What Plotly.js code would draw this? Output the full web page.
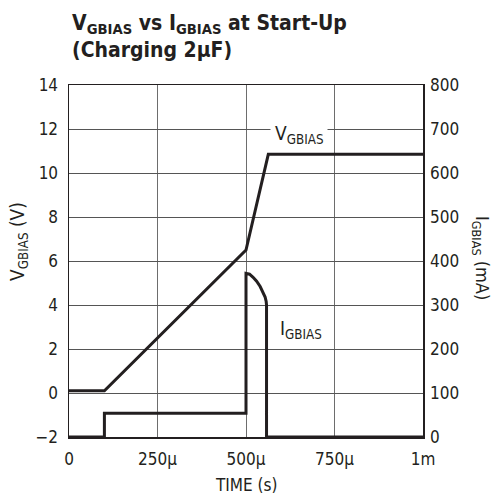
<!DOCTYPE html>
<html>
<head>
<meta charset="utf-8">
<script src="https://cdn.plot.ly/plotly-3.0.1.min.js"></script>
<style>html,body{margin:0;padding:0;background:#fff;}#chart{width:497px;height:498px;}</style>
</head>
<body>
<div id="chart"></div>
<script>
// Time (s) and V_GBIAS (V), left axis
var timeV = [0, 100e-6, 500e-6, 563e-6, 1e-3];
var vgbias = [0.1, 0.1, 6.5, 10.85, 10.85];

// Time (s) and I_GBIAS (mA), right axis
var timeI = [0, 100e-6, 100e-6, 500e-6, 500e-6, 510e-6, 520e-6, 530e-6, 540e-6, 548e-6, 554e-6, 557e-6, 558e-6, 558e-6, 1e-3];
var igbias = [0, 0, 54, 54, 372, 370, 363, 354, 342, 330, 318, 308, 300, 0, 0];

// Tick labels
var xTickVals = [0, 250e-6, 500e-6, 750e-6, 1e-3];
var xTickText = ['0', '250µ', '500µ', '750µ', '1m'];
var yLeftTicks = [-2, 0, 2, 4, 6, 8, 10, 12, 14];
var yLeftText = ['\u22122', '0', '2', '4', '6', '8', '10', '12', '14'];

var FONT = '"Liberation Sans Narrow", "DejaVu Sans Condensed", "Arial Narrow", sans-serif';
var INK = '#231f20';

var traces = [
  {x: timeV, y: vgbias, type: 'scatter', mode: 'lines', yaxis: 'y',
   line: {color: INK, width: 3}, hoverinfo: 'skip'},
  {x: timeI, y: igbias, type: 'scatter', mode: 'lines', yaxis: 'y2',
   line: {color: INK, width: 3}, hoverinfo: 'skip'}
];

var layout = {
  width: 497, height: 498,
  margin: {l: 69, r: 74, t: 85, b: 61, pad: 0},
  paper_bgcolor: '#fff', plot_bgcolor: '#fff',
  showlegend: false,
  font: {family: FONT, size: 17, color: INK},
  xaxis: {
    range: [0, 1e-3], tickvals: xTickVals, ticktext: xTickText,
    showgrid: true, gridcolor: '#6d6d6d', gridwidth: 1,
    zeroline: false, showline: true, mirror: true, linecolor: INK, linewidth: 1.5,
    ticks: '', ticklabelstandoff: 6, tickfont: {family: FONT, size: 17, color: INK}
  },
  yaxis: {
    range: [-2, 14], tickvals: yLeftTicks, ticktext: yLeftText,
    showgrid: true, gridcolor: '#555', gridwidth: 1,
    zeroline: false, showline: true, mirror: true, linecolor: INK, linewidth: 1.5,
    ticks: '', ticklabelstandoff: 6, tickfont: {family: FONT, size: 17, color: INK}
  },
  yaxis2: {
    range: [0, 800], dtick: 100, tick0: 0, overlaying: 'y', side: 'right',
    showgrid: false, zeroline: false, showline: false,
    ticks: '', ticklabelstandoff: 6, tickfont: {family: FONT, size: 17, color: INK}
  },
  annotations: [
    {text: '<b>V<sub>GBIAS</sub> vs I<sub>GBIAS</sub> at Start-Up<br>(Charging 2µF)</b>', xref: 'paper', yref: 'paper',
     x: 0.003, y: (437 - 37) / 352, xanchor: 'left', yanchor: 'middle', align: 'left', showarrow: false,
     font: {family: FONT, size: 21, color: INK}},
    {text: 'V<sub>GBIAS</sub> (V)', xref: 'paper', yref: 'paper', textangle: -90,
     x: (18 - 69) / 354, y: (437 - 242) / 352, xanchor: 'center', yanchor: 'middle', showarrow: false,
     font: {family: FONT, size: 19, color: INK}},
    {text: 'I<sub>GBIAS</sub> (mA)', xref: 'paper', yref: 'paper', textangle: 90,
     x: (481 - 69) / 354, y: (437 - 258) / 352, xanchor: 'center', yanchor: 'middle', showarrow: false,
     font: {family: FONT, size: 18, color: INK}},
    {text: 'TIME (s)', xref: 'paper', yref: 'paper',
     x: 0.5, y: (437 - 485) / 352, xanchor: 'center', yanchor: 'middle', showarrow: false,
     font: {family: FONT, size: 17, color: INK}},
    {text: 'V<sub>GBIAS</sub>', xref: 'paper', yref: 'paper',
     x: (299 - 69) / 354, y: (437 - 134) / 352, xanchor: 'center', yanchor: 'middle', showarrow: false,
     bgcolor: '#fff', borderpad: 4,
     font: {family: FONT, size: 19, color: INK}},
    {text: 'I<sub>GBIAS</sub>', xref: 'paper', yref: 'paper',
     x: (301 - 69) / 354, y: (437 - 329) / 352, xanchor: 'center', yanchor: 'middle', showarrow: false,
     font: {family: FONT, size: 19, color: INK}}
  ]
};

Plotly.newPlot('chart', traces, layout, {staticPlot: true, displayModeBar: false});
</script>
</body>
</html>
